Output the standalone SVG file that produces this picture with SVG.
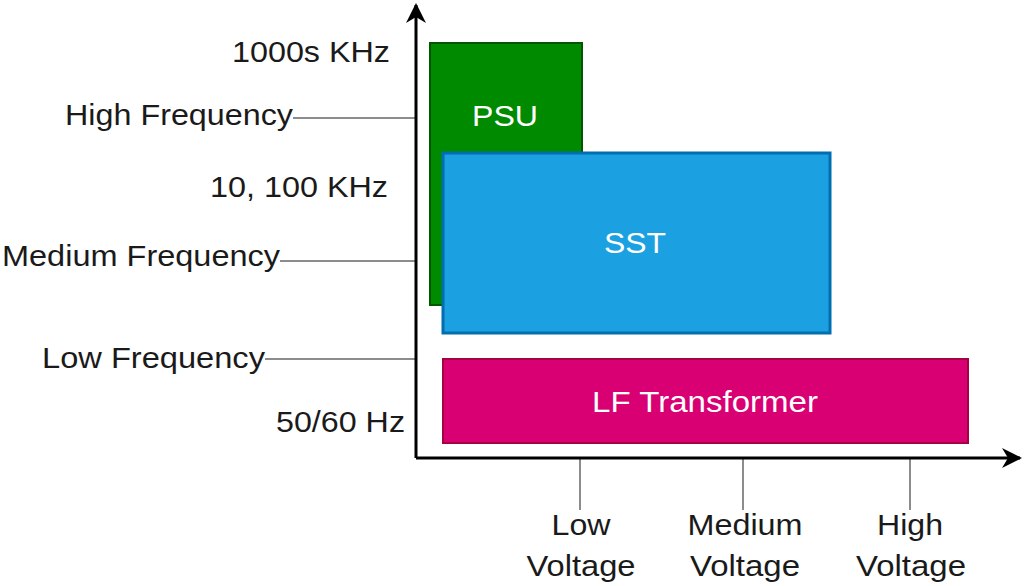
<svg xmlns="http://www.w3.org/2000/svg" width="1024" height="586" viewBox="0 0 1024 586">
<style>
text{font-family:"Liberation Sans",Arial,sans-serif;font-size:29px;fill:#1a1a1a}
.w{fill:#ffffff}
.g{stroke:#666666;stroke-width:1.5;fill:none}
.ax{stroke:#000000;stroke-width:3;fill:none}
</style>
<defs>
<marker id="ah" viewBox="0 0 20 20" refX="18" refY="10" markerWidth="20" markerHeight="20" markerUnits="userSpaceOnUse" orient="auto">
<path d="M0,0 L20,10 L0,20 L6,10 Z" fill="#000"/>
</marker>
</defs>
<g id="connectors">
<line class="g" x1="293" y1="118" x2="416" y2="118"/>
<line class="g" x1="280" y1="261" x2="416" y2="261"/>
<line class="g" x1="265" y1="359" x2="416" y2="359"/>
<line class="g" x1="580" y1="458" x2="580" y2="510"/>
<line class="g" x1="743" y1="458" x2="743" y2="510"/>
<line class="g" x1="910" y1="458" x2="910" y2="510"/>
<path class="ax" d="M416,458 L416,5" marker-end="url(#ah)"/>
<path class="ax" d="M416,458 L1020,458" marker-end="url(#ah)"/>
</g>
<g id="psu">
<rect x="430" y="43" width="152" height="262" fill="#008a00" stroke="#005700" stroke-width="2"/>
<text class="w" x="505" y="126" text-anchor="middle" textLength="66" lengthAdjust="spacingAndGlyphs">PSU</text>
</g>
<g id="sst">
<rect x="443" y="153" width="387" height="180" fill="#1ba1e2" stroke="#006eaf" stroke-width="3"/>
<text class="w" x="635" y="253" text-anchor="middle" textLength="62" lengthAdjust="spacingAndGlyphs">SST</text>
</g>
<g id="lf">
<rect x="443" y="359" width="525" height="84" fill="#d80073" stroke="#a50040" stroke-width="2"/>
<text class="w" x="705" y="412" text-anchor="middle" textLength="226" lengthAdjust="spacingAndGlyphs">LF Transformer</text>
</g>
<g id="labels-y">
<text x="390" y="62" text-anchor="end" textLength="158" lengthAdjust="spacingAndGlyphs">1000s KHz</text>
<text x="293" y="125" text-anchor="end" textLength="228" lengthAdjust="spacingAndGlyphs">High Frequency</text>
<text x="388" y="197" text-anchor="end" textLength="178" lengthAdjust="spacingAndGlyphs">10, 100 KHz</text>
<text x="280" y="266" text-anchor="end" textLength="278" lengthAdjust="spacingAndGlyphs">Medium Frequency</text>
<text x="265" y="368" text-anchor="end" textLength="223" lengthAdjust="spacingAndGlyphs">Low Frequency</text>
<text x="405" y="432" text-anchor="end" textLength="129" lengthAdjust="spacingAndGlyphs">50/60 Hz</text>
</g>
<g id="labels-x">
<text x="581" y="535" text-anchor="middle" textLength="59" lengthAdjust="spacingAndGlyphs">Low</text>
<text x="581" y="576" text-anchor="middle" textLength="109" lengthAdjust="spacingAndGlyphs">Voltage</text>
<text x="745" y="535" text-anchor="middle" textLength="115" lengthAdjust="spacingAndGlyphs">Medium</text>
<text x="745" y="576" text-anchor="middle" textLength="110" lengthAdjust="spacingAndGlyphs">Voltage</text>
<text x="910" y="535" text-anchor="middle" textLength="66" lengthAdjust="spacingAndGlyphs">High</text>
<text x="911" y="576" text-anchor="middle" textLength="110" lengthAdjust="spacingAndGlyphs">Voltage</text>
</g>
</svg>
